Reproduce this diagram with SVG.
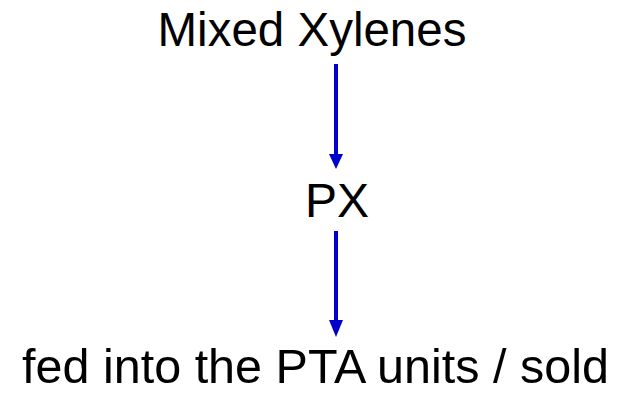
<svg xmlns="http://www.w3.org/2000/svg" width="623" height="396" viewBox="0 0 623 396">
  <style>
    .label { font-family: "Liberation Sans", Arial, sans-serif; font-size: 48px; fill: #000; text-anchor: middle; }
    .flow { stroke: #0000CC; stroke-width: 4; fill: none; }
    .head { fill: #0000CC; }
  </style>
  <rect width="623" height="396" fill="#fff"/>
  <g id="mixed-xylenes">
    <text class="label" x="312" y="46" style="font-size:47.5px">Mixed Xylenes</text>
  </g>
  <g id="px">
    <text class="label" x="337" y="217">PX</text>
  </g>
  <g id="pta">
    <text class="label" x="315.5" y="383" style="font-size:48.5px">fed into the PTA units / sold</text>
  </g>
  <g id="connectors">
    <line class="flow" x1="336" y1="64" x2="336" y2="156"/>
    <polygon class="head" points="329,154 343,154 336,169"/>
    <line class="flow" x1="336" y1="231" x2="336" y2="322"/>
    <polygon class="head" points="329,320 343,320 336,337"/>
  </g>
</svg>
